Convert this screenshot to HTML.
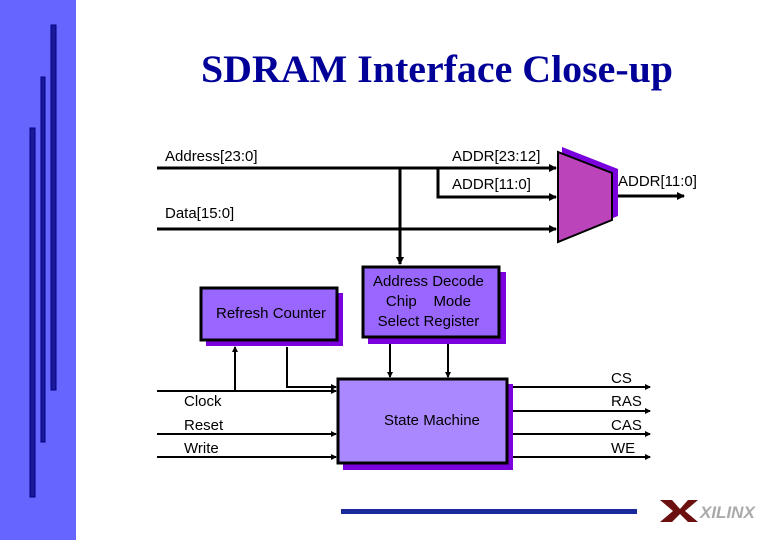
<!DOCTYPE html>
<html><head><style>
body{margin:0;width:780px;height:540px;background:#fff;overflow:hidden;position:relative;font-family:"Liberation Sans",sans-serif}
.t{position:absolute;font-size:15px;color:#000;white-space:nowrap}
</style></head><body>
<svg width="780" height="540" style="position:absolute;left:0;top:0">
<defs><marker id="a" markerWidth="8" markerHeight="8" refX="7" refY="4" orient="auto" markerUnits="userSpaceOnUse"><path d="M0,0 L8,4 L0,8z" fill="#000"/></marker>
<marker id="b" markerWidth="6" markerHeight="6" refX="5" refY="3" orient="auto" markerUnits="userSpaceOnUse"><path d="M0,0 L6,3 L0,6z" fill="#000"/></marker></defs>
<rect x="0" y="0" width="76" height="540" fill="#6666ff"/>
<rect x="51" y="25" width="5" height="365" fill="#1a1a9a" stroke="#000080"/>
<rect x="41" y="77" width="4" height="365" fill="#1a1a9a" stroke="#000080"/>
<rect x="30" y="128" width="5" height="369" fill="#1a1a9a" stroke="#000080"/>
<text x="437" y="82" text-anchor="middle" font-family="Liberation Serif" font-weight="bold" font-size="39" fill="#000099" textLength="472" lengthAdjust="spacingAndGlyphs">SDRAM Interface Close-up</text>
<g stroke="#000" stroke-width="3" fill="none">
<line x1="157" y1="168" x2="556" y2="168" marker-end="url(#a)"/>
<polyline points="438,168 438,197 556,197" marker-end="url(#a)"/>
<line x1="157" y1="229" x2="556" y2="229" marker-end="url(#a)"/>
<line x1="400" y1="168" x2="400" y2="264" marker-end="url(#a)"/>
<line x1="612" y1="196" x2="684" y2="196" marker-end="url(#a)"/>
</g>
<g stroke="#000" stroke-width="2" fill="none">
<line x1="390" y1="344" x2="390" y2="377" marker-end="url(#b)"/>
<line x1="448" y1="344" x2="448" y2="377" marker-end="url(#b)"/>
<line x1="157" y1="391" x2="336" y2="391" marker-end="url(#b)"/>
<line x1="157" y1="434" x2="336" y2="434" marker-end="url(#b)"/>
<line x1="157" y1="457" x2="336" y2="457" marker-end="url(#b)"/>
<line x1="235" y1="391" x2="235" y2="347" marker-end="url(#b)"/>
<polyline points="287,347 287,387 336,387" marker-end="url(#b)"/>
<line x1="507" y1="387" x2="650" y2="387" marker-end="url(#b)"/>
<line x1="507" y1="411" x2="650" y2="411" marker-end="url(#b)"/>
<line x1="507" y1="434" x2="650" y2="434" marker-end="url(#b)"/>
<line x1="507" y1="457" x2="650" y2="457" marker-end="url(#b)"/>
</g>
<polygon points="562,147 618,169 618,216 562,238" fill="#7a00dd"/>
<polygon points="558,152 612,173 612,220 558,242" fill="#bb44bb" stroke="#000" stroke-width="2"/>
<rect x="206" y="293" width="137" height="53" fill="#7a00dd"/>
<rect x="201" y="288" width="136" height="52" fill="#9966ff" stroke="#000" stroke-width="3"/>
<rect x="368" y="272" width="138" height="72" fill="#7a00dd"/>
<rect x="363" y="267" width="136" height="70" fill="#9966ff" stroke="#000" stroke-width="3"/>
<rect x="343" y="384" width="170" height="86" fill="#7a00dd"/>
<rect x="338" y="379" width="169" height="84" fill="#aa88ff" stroke="#000" stroke-width="3"/>
<rect x="341" y="509" width="296" height="5" fill="#1a2a9a"/>
<polygon points="660,500 672,500 680,509 688,500 698,500 685,511 698,522 688,522 680,514 672,522 660,522 673,511" fill="#6b0f0f"/>
<text x="700" y="518" font-size="17" font-weight="bold" fill="#aaa" font-style="italic">XILINX</text>
</svg>
<div class="t" style="left:165px;top:148px">Address[23:0]</div>
<div class="t" style="left:452px;top:148px">ADDR[23:12]</div>
<div class="t" style="left:452px;top:176px">ADDR[11:0]</div>
<div class="t" style="left:618px;top:173px">ADDR[11:0]</div>
<div class="t" style="left:165px;top:205px">Data[15:0]</div>
<div class="t" style="left:216px;top:305px">Refresh Counter</div>
<div class="t" style="left:373px;top:272px;line-height:20px;text-align:center">Address Decode<br>Chip &nbsp;&nbsp; Mode<br>Select Register</div>
<div class="t" style="left:384px;top:412px">State Machine</div>
<div class="t" style="left:184px;top:393px">Clock</div>
<div class="t" style="left:184px;top:417px">Reset</div>
<div class="t" style="left:184px;top:440px">Write</div>
<div class="t" style="left:611px;top:370px">CS</div>
<div class="t" style="left:611px;top:393px">RAS</div>
<div class="t" style="left:611px;top:417px">CAS</div>
<div class="t" style="left:611px;top:440px">WE</div>
</body></html>
